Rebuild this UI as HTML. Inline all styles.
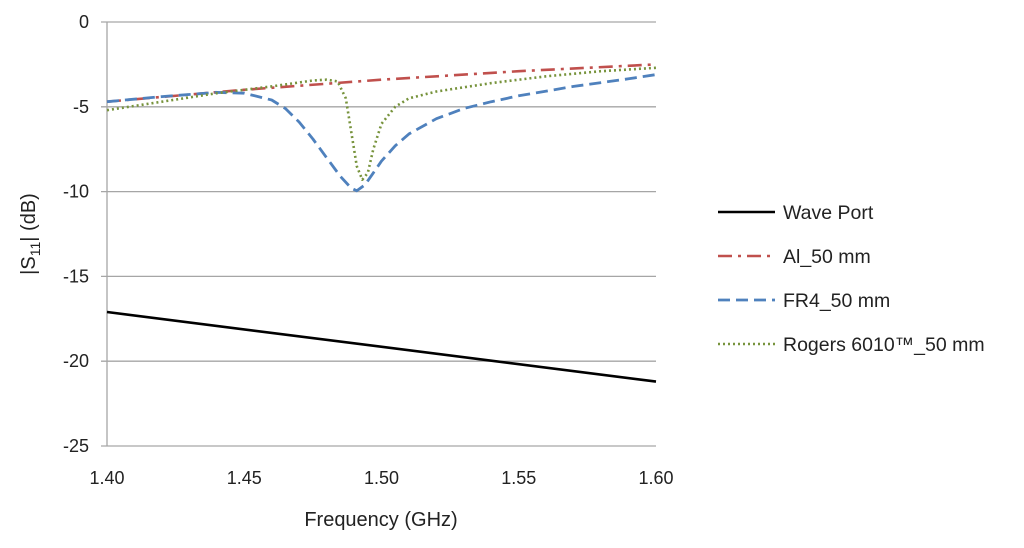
<!DOCTYPE html>
<html><head><meta charset="utf-8"><style>
body{margin:0;background:#fff}
text{font-family:"Liberation Sans",sans-serif;fill:#222}
</style></head><body>
<svg id="chart" width="1024" height="543" xmlns="http://www.w3.org/2000/svg">
<g id="grid"></g><g id="series"></g><g id="labels"></g>
<text x="381" y="526" font-size="20" text-anchor="middle">Frequency (GHz)</text>
<text transform="translate(35,234) rotate(-90)" font-size="20" text-anchor="middle">|S<tspan font-size="14" dy="5">11</tspan><tspan dy="-5">| (dB)</tspan></text>
<g id="legend"></g>
</svg>
<script>
const xTicks=[1.40,1.45,1.50,1.55,1.60];
const yTicks=[0,-5,-10,-15,-20,-25];
const waveF=[1.40,1.60];
const waveV=[-17.1,-21.2];
const alF=[1.40,1.45,1.50,1.55,1.60];
const alV=[-4.7,-4.0,-3.4,-2.9,-2.5];
const fr4F=[1.40,1.42,1.44,1.45,1.46,1.465,1.47,1.475,1.48,1.485,1.489,1.491,1.494,1.497,1.50,1.505,1.51,1.52,1.53,1.54,1.55,1.57,1.59,1.60];
const fr4V=[-4.7,-4.4,-4.15,-4.2,-4.6,-5.1,-5.9,-6.9,-8.0,-9.1,-9.8,-9.95,-9.6,-8.9,-8.2,-7.3,-6.6,-5.7,-5.1,-4.7,-4.35,-3.8,-3.35,-3.1];
const rogF=[1.40,1.42,1.44,1.46,1.475,1.48,1.484,1.487,1.489,1.491,1.493,1.495,1.497,1.50,1.505,1.51,1.52,1.54,1.56,1.58,1.60];
const rogV=[-5.2,-4.7,-4.2,-3.8,-3.45,-3.4,-3.5,-4.5,-6.5,-8.5,-9.3,-8.9,-7.5,-6.0,-5.0,-4.5,-4.1,-3.6,-3.2,-2.9,-2.7];
const legendNames=["Wave Port","Al_50 mm","FR4_50 mm","Rogers 6010™_50 mm"];
const X0=107,X1=656,Y0=22,Y1=446;
const xs=f=>X0+(f-1.40)/0.2*(X1-X0);
const ys=v=>Y0+(0-v)/25*(Y1-Y0);
const NS="http://www.w3.org/2000/svg";
function mk(tag,attrs,parent){const e=document.createElementNS(NS,tag);for(const k in attrs)e.setAttribute(k,attrs[k]);document.getElementById(parent).appendChild(e);return e;}
yTicks.forEach(v=>{
 const l=mk("line",{x1:X0-6,x2:X1,y1:ys(v),y2:ys(v),stroke:"#a6a6a6","stroke-width":1.3},"grid");
 
 
 const t=mk("text",{x:89,y:ys(v)+6,"font-size":18,"text-anchor":"end"},"labels");t.textContent=v;
 
 
});
const ax=mk("line",{x1:X0,x2:X0,y1:Y0,y2:Y1,stroke:"#a6a6a6","stroke-width":1.3},"grid");


xTicks.forEach(f=>{
 const t=mk("text",{x:xs(f),y:484,"font-size":18,"text-anchor":"middle"},"labels");t.textContent=f.toFixed(2);
 
 
});
const styles=[
 {c:"#000",d:"",w:2.6},
 {c:"#c0504d",d:"14 6 3 6",w:2.6},
 {c:"#4f81bd",d:"12 6",w:2.8},
 {c:"#77933c",d:"2 3",w:2.6}];
const names=['wave-port-line','al-line','fr4-line','rogers-line'];
[[waveF,waveV],[alF,alV],[fr4F,fr4V],[rogF,rogV]].forEach((s,i)=>{
 const pts=s[0].map((f,j)=>xs(f).toFixed(1)+","+ys(s[1][j]).toFixed(1)).join(" ");
 const p=mk("polyline",{points:pts,fill:"none",stroke:styles[i].c,"stroke-width":styles[i].w,"stroke-dasharray":styles[i].d,"stroke-linejoin":"round"},"series");
 
 
 const y=212+i*44;
 const l=mk("line",{x1:718,x2:775,y1:y,y2:y,stroke:styles[i].c,"stroke-width":styles[i].w,"stroke-dasharray":styles[i].d},"legend");
 
 
 const t=mk("text",{x:783,y:y+7,"font-size":19.5},"legend");t.textContent=legendNames[i];
 
 
});
</script>
</body></html>
